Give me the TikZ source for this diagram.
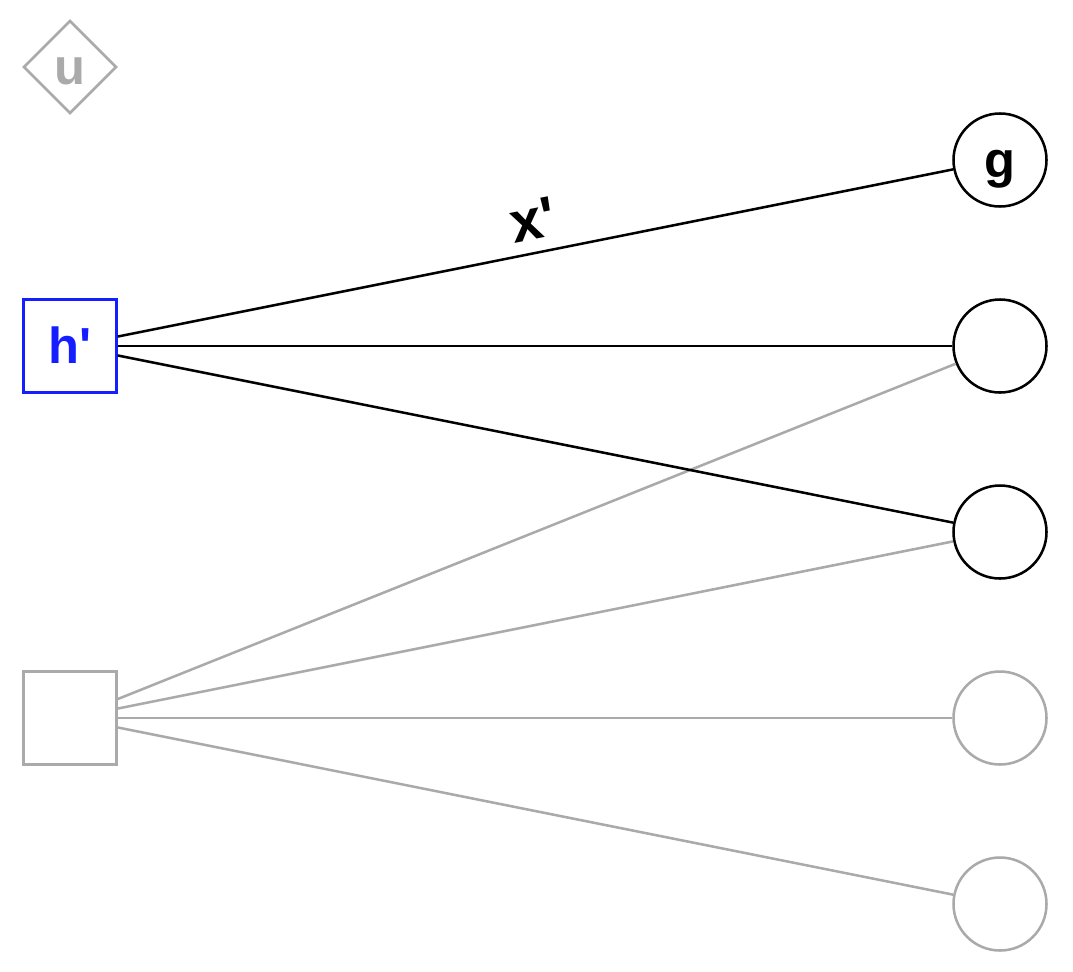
\documentclass[tikz,border=0pt]{standalone}
\usepackage{fontspec}
\setmainfont{Liberation Sans}[Ligatures=TeXOff]
\usetikzlibrary{shapes.geometric}
\definecolor{lgray}{RGB}{170,170,170}
\definecolor{hblue}{RGB}{20,30,255}
\begin{document}
\begin{tikzpicture}[x=0.75pt,y=-0.75pt,
  base/.style={line width=1.9pt,inner sep=0pt,text height=25.5pt,text depth=0pt,font=\fontsize{38}{40}\selectfont\bfseries},
  circ/.style={base,circle,draw=black,minimum size=69.75pt},
  gcirc/.style={base,circle,draw=lgray,minimum size=69.75pt},
  sq/.style={base,rectangle,minimum size=69.75pt},
  dia/.style={base,diamond,draw=lgray,text=lgray,minimum size=69.75pt},
  bedge/.style={line width=1.9pt,draw=black},
  gedge/.style={line width=1.9pt,draw=lgray}]
\useasboundingbox (0,0) rectangle (1073,971);
\node[dia] (u) at (70,67) {u};
\node[sq,draw=hblue,text=hblue] (h) at (70,346) {h'};
\node[sq,draw=lgray] (k) at (70,718) {};
\node[circ] (g) at (1000,160) {g};
\node[circ] (c2) at (1000,346) {};
\node[circ] (c3) at (1000,532) {};
\node[gcirc] (c4) at (1000,718) {};
\node[gcirc] (c5) at (1000,904) {};
\draw[gedge] (k) -- (c2);
\draw[gedge] (k) -- (c3);
\draw[gedge] (k) -- (c4);
\draw[gedge] (k) -- (c5);
\draw[bedge] (h) -- node[pos=0.505,above,sloped,inner sep=9pt,font=\fontsize{43}{46}\selectfont\bfseries] {x'} (g);
\draw[bedge] (h) -- (c2);
\draw[bedge] (h) -- (c3);
\end{tikzpicture}
\end{document}
